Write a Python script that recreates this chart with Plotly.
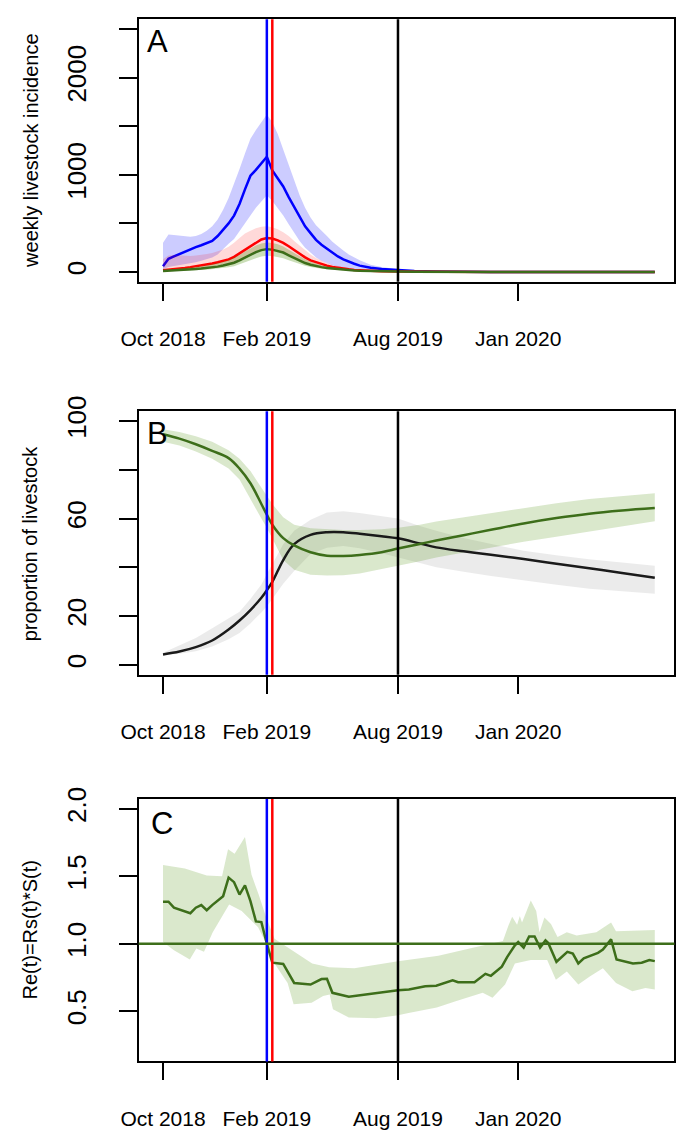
import plotly.graph_objects as go

# x axis is in weeks since the first observation
tick_weeks = [0, 19, 43, 65]
tick_labels = ['Oct 2018', 'Feb 2019', 'Aug 2019', 'Jan 2020']
blue_week = 19
red_week = 20
black_week = 43
re_threshold = 1.0

# ---- panel A: weekly livestock incidence ----
weeks_a = list(range(0, 37)) + [38, 40, 43, 46, 50, 60, 90]
blue_mean = [60, 135, 160, 185, 210, 236, 255, 275, 295, 320, 370, 430, 500, 580, 700, 850, 990, 1050, 1115, 1185,
             1045, 960, 880, 770, 670, 560, 470, 400, 330, 280, 240, 200, 160, 130, 105, 85, 65,
             43, 31, 18, 9, 4, 1, 0]
blue_hi = [300, 385, 380, 372, 365, 362, 370, 390, 425, 470, 540, 640, 760, 900, 1060, 1220, 1370, 1460, 1540, 1620,
           1540, 1420, 1260, 1100, 930, 790, 660, 560, 480, 430, 370, 310, 260, 220, 180, 150, 120,
           75, 50, 28, 15, 6, 2, 1]
blue_lo = [30, 50, 60, 70, 80, 90, 100, 115, 130, 150, 180, 230, 290, 340, 420, 500, 580, 660, 730, 790,
           730, 660, 580, 490, 400, 320, 250, 200, 150, 115, 90, 70, 55, 42, 32, 25, 20,
           12, 8, 4, 2, 1, 0, 0]
red_mean = [17, 22, 28, 35, 42, 50, 58, 66, 76, 88, 100, 115, 130, 155, 190, 230, 265, 300, 335, 350,
            345, 325, 300, 265, 225, 185, 150, 120, 100, 80, 65, 52, 42, 34, 27, 21, 17,
            10, 7, 4, 2, 1, 0, 0]
red_hi = [130, 170, 175, 170, 165, 165, 170, 175, 185, 195, 210, 230, 260, 300, 350, 395, 425, 450, 465, 470,
          460, 440, 410, 370, 320, 270, 220, 180, 145, 115, 92, 74, 60, 48, 38, 30, 24,
          15, 10, 6, 3, 2, 1, 0]
red_lo = [5, 8, 11, 14, 18, 22, 26, 30, 36, 42, 50, 58, 68, 82, 105, 135, 165, 195, 225, 240,
          240, 225, 205, 175, 145, 115, 90, 70, 56, 44, 35, 28, 22, 17, 13, 10, 8,
          5, 3, 2, 1, 0, 0, 0]
green_mean = [10, 12, 15, 18, 22, 26, 30, 35, 40, 47, 55, 67, 80, 95, 120, 150, 180, 205, 225, 235,
              230, 218, 200, 172, 145, 115, 92, 75, 60, 50, 40, 34, 28, 23, 19, 16, 13,
              9, 6, 4, 2, 1, 0, 0]
green_hi = [20, 25, 30, 35, 40, 46, 52, 60, 68, 78, 90, 105, 122, 145, 175, 210, 245, 272, 292, 304,
            298, 285, 262, 230, 195, 160, 130, 105, 85, 70, 57, 47, 39, 32, 26, 22, 18,
            12, 9, 6, 3, 2, 1, 0]
green_lo = [4, 5, 7, 9, 11, 14, 17, 20, 24, 28, 33, 40, 48, 58, 75, 95, 120, 140, 158, 168,
            165, 155, 140, 120, 100, 80, 63, 50, 40, 33, 27, 22, 18, 15, 12, 10, 8,
            6, 4, 2, 1, 0, 0, 0]

# ---- panel B: proportion of livestock ----
weeks_b = [0, 3, 6, 9, 12, 14, 16, 18, 19, 20, 22, 24, 27, 30, 33, 36, 40, 43, 47, 50, 55, 60, 66, 72, 78, 84, 90]
susc_mean = [94.6, 92.8, 90.5, 87.8, 84.8, 80.5, 74.5, 66.0, 61.6, 57.5, 52.0, 49.0, 46.2, 44.8, 44.7, 45.1,
             46.2, 47.7, 49.6, 51.0, 53.2, 55.4, 58.0, 60.2, 62.0, 63.3, 64.3]
susc_hi = [96.6, 95.5, 93.8, 91.5, 88.0, 84.5, 79.5, 73.0, 69.7, 66.0, 60.5, 57.5, 56.0, 55.5, 55.3, 55.3,
           55.6, 56.2, 57.5, 58.8, 60.5, 62.3, 64.5, 66.3, 68.0, 69.3, 70.4]
susc_lo = [91.5, 90.0, 87.5, 84.5, 80.5, 76.0, 68.0, 60.0, 56.2, 52.0, 43.0, 39.0, 37.0, 36.7, 36.8, 37.5,
           39.3, 40.7, 42.5, 44.0, 46.1, 48.1, 50.5, 52.6, 54.8, 56.9, 58.9]
rec_mean = [4.3, 5.5, 7.3, 10.0, 14.5, 18.2, 22.5, 27.5, 30.6, 34.0, 43.0, 49.5, 53.3, 54.4, 54.4, 53.8,
            52.8, 51.9, 49.8, 48.2, 46.6, 45.2, 43.4, 41.5, 39.6, 37.7, 35.7]
rec_hi = [5.0, 8.0, 11.0, 15.0, 19.0, 21.8, 27.0, 33.0, 37.3, 41.5, 49.5, 55.0, 59.5, 62.5, 63.0, 62.3,
          61.0, 60.0, 57.0, 55.0, 52.0, 49.5, 46.8, 45.0, 43.3, 42.0, 40.7]
rec_lo = [3.9, 4.6, 5.6, 7.5, 10.5, 13.1, 17.0, 21.5, 23.9, 27.0, 33.3, 38.5, 45.5, 48.0, 48.8, 47.8,
          45.8, 44.1, 41.8, 40.0, 38.2, 36.5, 34.6, 32.9, 31.2, 30.2, 29.2]

# ---- panel C: effective reproduction number ----
weeks_c = [0, 1, 2, 5, 6, 7, 8, 9, 11, 12, 13, 14, 15, 16, 17, 18, 19, 20, 22, 24, 27, 29, 30, 31, 34, 37, 40,
           43, 45, 48, 50, 53, 54, 57, 59, 60, 62, 63, 64.4, 65, 66, 67, 68, 69, 70, 70.5, 72, 74, 75, 76, 77,
           79.6, 80.5, 82, 83, 86, 87.6, 89, 90]
re_mean = [1.311, 1.311, 1.267, 1.226, 1.267, 1.286, 1.248, 1.286, 1.352, 1.49, 1.456, 1.364, 1.432, 1.316,
           1.165, 1.16, 1.0, 0.859, 0.85, 0.709, 0.697, 0.738, 0.74, 0.636, 0.607, 0.624, 0.636,
           0.655, 0.66, 0.684, 0.689, 0.728, 0.714, 0.714, 0.777, 0.762, 0.83, 0.903, 0.988, 1.012, 0.971,
           1.053, 1.053, 0.971, 1.024, 1.005, 0.866, 0.939, 0.927, 0.854, 0.891,
           0.932, 0.956, 1.032, 0.883, 0.854, 0.859, 0.879, 0.871]
weeks_c_hi = [0, 4, 8, 10.8, 11.9, 13.1, 15, 16.2, 17.5, 18.8, 20.4, 22.7, 27.3, 30.4, 35, 43, 45, 50.4, 56.7,
              62.2, 63.2, 63.9, 64.8, 65.3, 65.7, 67.3, 68.3, 68.9, 69.8, 71, 72.2, 73.9, 75.7, 79.3, 82,
              82.9, 90]
re_hi = [1.583, 1.558, 1.505, 1.5, 1.7, 1.667, 1.79, 1.51, 1.364, 1.206, 1.036, 0.976, 0.854, 0.825, 0.818,
         0.87, 0.88, 0.91, 0.97, 1.02, 1.133, 1.2, 1.14, 1.206, 1.158, 1.32, 1.243, 1.085, 1.194, 1.146,
         1.049, 1.085, 1.061, 1.085, 1.158, 1.092, 1.102]
weeks_c_lo = [0, 2, 4.9, 6.1, 7.5, 9.1, 12.1, 14.4, 17.4, 18.9, 20.4, 22.8, 23.9, 27.2, 29.3, 30.5, 31.1, 34,
              39, 43, 44.7, 50.1, 53.7, 58.5, 60.3, 62.6, 64.4, 67.3, 70.3, 71.9, 73.9, 76, 78.1, 80.5,
              82.9, 85.9, 88.3, 90]
re_lo = [1.012, 0.951, 0.883, 0.964, 0.94, 1.085, 1.29, 1.243, 1.121, 1.0, 0.854, 0.709, 0.551, 0.563, 0.612,
         0.624, 0.515, 0.454, 0.447, 0.47, 0.485, 0.527, 0.575, 0.636, 0.6, 0.697, 0.854, 0.879, 0.879,
         0.733, 0.794, 0.697, 0.757, 0.818, 0.709, 0.648, 0.672, 0.66]

BLUE = '#0000FF'
RED = '#FF0000'
GREEN = '#3D6E1A'
FONT = 'Liberation Sans, Arial, sans-serif'


def band(x_hi, hi, x_lo, lo, color, xa, ya):
    return go.Scatter(x=list(x_hi) + list(x_lo)[::-1], y=list(hi) + list(lo)[::-1],
                      fill='toself', fillcolor=color, line=dict(width=0),
                      mode='lines', hoverinfo='skip', xaxis=xa, yaxis=ya)


def line(x, y, color, xa, ya, shape='linear'):
    return go.Scatter(x=x, y=y, mode='lines', line=dict(color=color, width=2.5, shape=shape),
                      xaxis=xa, yaxis=ya)


fig = go.Figure()

# panel A
fig.add_trace(band(weeks_a, blue_hi, weeks_a, blue_lo, 'rgba(0,0,255,0.2)', 'x', 'y'))
fig.add_trace(line(weeks_a, blue_mean, BLUE, 'x', 'y'))
fig.add_trace(band(weeks_a, red_hi, weeks_a, red_lo, 'rgba(255,0,0,0.15)', 'x', 'y'))
fig.add_trace(line(weeks_a, red_mean, RED, 'x', 'y'))
fig.add_trace(band(weeks_a, green_hi, weeks_a, green_lo, 'rgba(69,139,0,0.28)', 'x', 'y'))
fig.add_trace(line(weeks_a, green_mean, GREEN, 'x', 'y'))

# panel B
fig.add_trace(band(weeks_b, rec_hi, weeks_b, rec_lo, 'rgba(0,0,0,0.08)', 'x2', 'y2'))
fig.add_trace(band(weeks_b, susc_hi, weeks_b, susc_lo, 'rgba(69,139,0,0.2)', 'x2', 'y2'))
fig.add_trace(line(weeks_b, rec_mean, '#1A1A1A', 'x2', 'y2', 'spline'))
fig.add_trace(line(weeks_b, susc_mean, GREEN, 'x2', 'y2', 'spline'))

# panel C
fig.add_trace(band(weeks_c_hi, re_hi, weeks_c_lo, re_lo, 'rgba(69,139,0,0.2)', 'x3', 'y3'))
fig.add_trace(line(weeks_c, re_mean, GREEN, 'x3', 'y3'))

# event lines
shapes = []
for ax in ['', '2', '3']:
    for wk, col in [(blue_week, BLUE), (red_week, RED), (black_week, 'black')]:
        shapes.append(dict(type='line', xref='x' + ax, yref='y' + ax + ' domain',
                           x0=wk, x1=wk, y0=0, y1=1, line=dict(color=col, width=2.5), layer='above'))
shapes.append(dict(type='line', xref='x3 domain', yref='y3', x0=0, x1=1,
                   y0=re_threshold, y1=re_threshold, line=dict(color=GREEN, width=2.5), layer='above'))

xdom = [124 / 677, 674.4 / 677]
ydoms = [[1 - 270 / 1130, 1 - 3.3 / 1130],
         [1 - 669.3 / 1130, 1 - 401.7 / 1130],
         [1 - 1062.3 / 1130, 1 - 795.7 / 1130]]

xaxis_common = dict(range=[-4.45, 93.6], tickmode='array', tickvals=tick_weeks, ticktext=tick_labels,
                    ticks='outside', ticklen=17, tickwidth=2, tickcolor='black',
                    showline=True, linecolor='black', linewidth=2, mirror=True,
                    showgrid=False, zeroline=False, ticklabelstandoff=20,
                    tickfont=dict(size=21, color='black', family=FONT), domain=xdom)
yaxis_common = dict(ticks='outside', ticklen=18, tickwidth=2, tickcolor='black', tickangle=-90,
                    showline=True, linecolor='black', linewidth=2, mirror=True,
                    showgrid=False, zeroline=False, ticklabelstandoff=22,
                    tickfont=dict(size=26, color='black', family=FONT))

fig.update_layout(
    width=677, height=1130,
    margin=dict(l=0, r=0, t=0, b=0),
    paper_bgcolor='white', plot_bgcolor='white',
    showlegend=False,
    font=dict(family=FONT, color='black'),
    xaxis=dict(xaxis_common, anchor='y'),
    xaxis2=dict(xaxis_common, anchor='y2'),
    xaxis3=dict(xaxis_common, anchor='y3'),
    yaxis=dict(yaxis_common, anchor='x', domain=ydoms[0], range=[-100, 2600],
               tickvals=[0, 500, 1000, 1500, 2000, 2500], ticktext=['0', '', '1000', '', '2000', '']),
    yaxis2=dict(yaxis_common, anchor='x2', domain=ydoms[1], range=[-4, 104],
                tickvals=[0, 20, 40, 60, 80, 100], ticktext=['0', '20', '', '60', '', '100']),
    yaxis3=dict(yaxis_common, anchor='x3', domain=ydoms[2], range=[0.128, 2.072],
                tickvals=[0.5, 1.0, 1.5, 2.0], ticktext=['0.5', '1.0', '1.5', '2.0']),
    shapes=shapes,
)

panel_letters = [('A', 143.5, 26), ('B', 143.5, 424), ('C', 148, 821)]
for txt, px_, py_ in panel_letters:
    fig.add_annotation(text=txt, x=px_ / 677, y=1 - py_ / 1130, xref='paper', yref='paper',
                       showarrow=False, xanchor='center', yanchor='middle',
                       font=dict(size=31, color='black', family=FONT))

y_titles = [('weekly livestock incidence', 136.7), ('proportion of livestock', 535.5),
            ('Re(t)=Rs(t)*S(t)', 929)]
for txt, py_ in y_titles:
    fig.add_annotation(text=txt, x=12.7 / 677, y=1 - py_ / 1130, xref='paper', yref='paper',
                       showarrow=False, xanchor='center', yanchor='middle', textangle=-90,
                       font=dict(size=20, color='black', family=FONT))

# drop the default page margin so the figure sits at the window's top-left corner
fig.write_html('out.html', config={'displayModeBar': False},
               post_script="document.body.style.margin='0';")
